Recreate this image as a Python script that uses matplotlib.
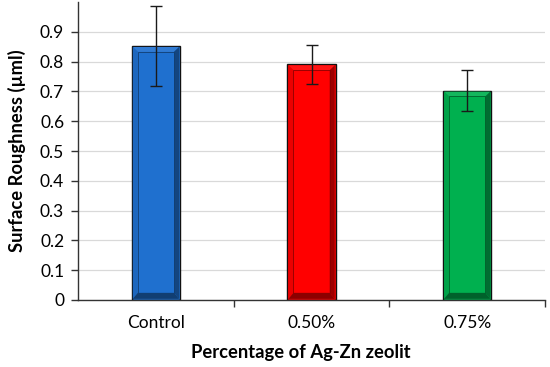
import numpy as np
import matplotlib
matplotlib.use("Agg")
import matplotlib.pyplot as plt
from matplotlib.patches import Polygon
from matplotlib.colors import to_rgb

categories = ["Control", "0.50%", "0.75%"]
roughness = [0.853, 0.791, 0.703]
errors = [0.135, 0.066, 0.068]
colors = ["#1F70CF", "#FF0000", "#00B04F"]

plt.rcParams["font.family"] = ["Lato", "DejaVu Sans"]

fig = plt.figure(figsize=(5.5, 3.67), dpi=100)
ax = fig.add_axes([0.142, 0.183, 0.849, 0.811])

x = np.arange(len(categories))
width = 0.31
ax.set_xlim(-0.5, 2.5)
ax.set_ylim(0, 1.0)

ax.bar(x, roughness, width=width, color=colors, edgecolor="#111111", linewidth=1.0, zorder=2)

# bevel shading drawn as four trapezoids per bar
fig.canvas.draw()
bbox = ax.get_window_extent()
px_x = 3.0 / bbox.width
px_y = 1.0 / bbox.height
bx, by = 5 * px_x, 6 * px_y

def shade(c, f):
    r = np.array(to_rgb(c))
    return tuple(np.clip(r * f, 0, 1)) if f < 1 else tuple(r + (1 - r) * (f - 1))

for xi, v, c in zip(x, roughness, colors):
    x0, x1 = xi - width / 2 + 1.0 * px_x, xi + width / 2 - 1.0 * px_x
    y0, y1 = 1.0 * px_y, v - 1.0 * px_y
    ix0, ix1, iy0, iy1 = x0 + bx, x1 - bx, y0 + by, y1 - by * 0.8
    parts = [
        ([(x0, y1), (x1, y1), (ix1, iy1), (ix0, iy1)], shade(c, 1.08)),
        ([(x0, y0), (x0, y1), (ix0, iy1), (ix0, iy0)], shade(c, 0.92)),
        ([(x1, y0), (x1, y1), (ix1, iy1), (ix1, iy0)], shade(c, 0.62)),
        ([(x0, y0), (x1, y0), (ix1, iy0), (ix0, iy0)], shade(c, 0.55)),
    ]
    for pts, col in parts:
        ax.add_patch(Polygon(pts, closed=True, facecolor=col, edgecolor="none", zorder=2.5))
    ax.add_patch(Polygon([(ix0, iy0), (ix1, iy0), (ix1, iy1), (ix0, iy1)], closed=True,
                         facecolor="none", edgecolor=shade(c, 0.55), linewidth=0.6, zorder=2.6))

ax.errorbar(x, roughness, yerr=errors, fmt="none", ecolor="#1a1a1a",
            elinewidth=1.0, capsize=4, capthick=1.0, zorder=3)

ax.set_yticks(np.arange(0, 1.0, 0.1))
ax.set_yticklabels(["0"] + [f"{t:.1f}" for t in np.arange(0.1, 0.95, 0.1)])
ax.yaxis.grid(True, color="#d9d9d9", linewidth=0.9, zorder=0)
ax.set_axisbelow(True)

ax.set_xticks(x)
ax.set_xticklabels(categories)
ax.set_xticks(np.arange(0.5, 3.0, 1.0), minor=True)
ax.tick_params(axis="x", which="major", length=0, pad=11, labelsize=12.5)
ax.tick_params(axis="x", which="minor", length=5, width=1.0, color="#333333")
ax.tick_params(axis="y", length=5, width=1.0, color="#333333", labelsize=12.5, pad=5)

for s in ["top", "right"]:
    ax.spines[s].set_visible(False)
for s in ["left", "bottom"]:
    ax.spines[s].set_color("#333333")
    ax.spines[s].set_linewidth(1.0)

ax.set_xlabel("Percentage of Ag-Zn zeolit", fontsize=13.2, fontweight="bold", labelpad=9)
ax.xaxis.label.set_x(0.478)
ax.set_ylabel("Surface Roughness (µml)", fontsize=13.2, fontweight="bold", labelpad=10)

fig.savefig("out.png", dpi=100)
